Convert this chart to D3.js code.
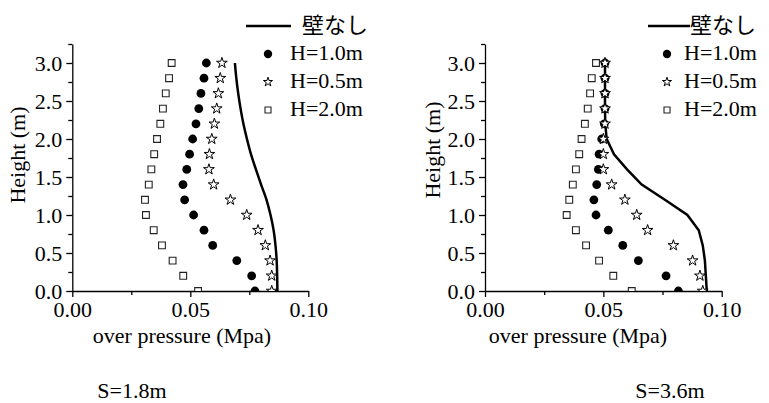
<!DOCTYPE html>
<html>
<head>
<meta charset="utf-8">
<script src="https://cdn.jsdelivr.net/npm/d3@7"></script>
<style>
  body { margin: 0; background: #fff; }
  svg text { font-family: 'Liberation Serif', 'DejaVu Serif', 'Noto Sans CJK JP', serif !important; fill: #000; }
</style>
</head>
<body>
<script>
// heights of the measuring points (m)
var heights = [0.0, 0.2, 0.4, 0.6, 0.8, 1.0, 1.2, 1.4, 1.6, 1.8, 2.0, 2.2, 2.4, 2.6, 2.8, 3.0];

// S=1.8m, over pressure (MPa) at each height
var s18NoWall = [0.0869, 0.0868, 0.0866, 0.0861, 0.0853, 0.0840, 0.0823, 0.0800, 0.0778, 0.0757, 0.0740, 0.0725, 0.0713, 0.0703, 0.0695, 0.0689];
var s18H10 = [0.0774, 0.0760, 0.0697, 0.0595, 0.0558, 0.0514, 0.0476, 0.0469, 0.0485, 0.0497, 0.0510, 0.0524, 0.0536, 0.0545, 0.0558, 0.0568];
var s18H05 = [0.0845, 0.0845, 0.0838, 0.0818, 0.0787, 0.0739, 0.0670, 0.0599, 0.0579, 0.0581, 0.0591, 0.0602, 0.0612, 0.0619, 0.0627, 0.0634];
var s18H20 = [0.0533, 0.0470, 0.0425, 0.0380, 0.0345, 0.0312, 0.0308, 0.0324, 0.0335, 0.0347, 0.0359, 0.0373, 0.0384, 0.0396, 0.0410, 0.0421];

// S=3.6m
var s36NoWall = [0.0937, 0.0933, 0.0929, 0.0920, 0.0903, 0.0855, 0.0760, 0.0662, 0.0600, 0.0545, 0.0514, 0.0508, 0.0507, 0.0507, 0.0507, 0.0507];
var s36H10 = [0.0817, 0.0765, 0.0648, 0.0582, 0.0521, 0.0469, 0.0460, 0.0472, 0.0479, 0.0482, 0.0493, 0.0504, 0.0507, 0.0507, 0.0507, 0.0507];
var s36H05 = [0.0920, 0.0908, 0.0877, 0.0796, 0.0687, 0.0641, 0.0591, 0.0535, 0.0500, 0.0500, 0.0500, 0.0507, 0.0507, 0.0507, 0.0507, 0.0507];
var s36H20 = [0.0620, 0.0542, 0.0482, 0.0427, 0.0384, 0.0345, 0.0356, 0.0371, 0.0384, 0.0398, 0.0408, 0.0422, 0.0434, 0.0444, 0.0451, 0.0469];

var seriesNames = ["壁なし", "H=1.0m", "H=0.5m", "H=2.0m"];
var xTicks = [0, 0.05, 0.10];
var xMinor = [0.025, 0.075];
var yTicks = [0, 0.5, 1.0, 1.5, 2.0, 2.5, 3.0];
var yMinor = [0.25, 0.75, 1.25, 1.75, 2.25, 2.75, 3.25];
var xTitle = "over pressure (Mpa)";
var yTitle = "Height (m)";

var FONT = "'Liberation Serif', 'DejaVu Serif', 'Noto Sans CJK JP', serif";
var FS = 22;

var svg = d3.select("body").append("svg")
  .attr("width", 769)
  .attr("height", 403)
  .attr("font-family", FONT);

var panels = [
  { id: "p1", label: "S=1.8m", wall: s18NoWall, h10: s18H10, h05: s18H05, h20: s18H20,
    x0: 72.3, x1: 308.3, curve: d3.curveMonotoneY,
    yTitleX: 25, yTitleY: 155, xTitleX: 182, labelX: 132,
    legLine: [246, 291], legTextX: 302, legMarkX: 268, legLabelX: 290 },
  { id: "p2", label: "S=3.6m", wall: s36NoWall, h10: s36H10, h05: s36H05, h20: s36H20,
    x0: 485, x1: 721.7, curve: d3.curveLinear,
    yTitleX: 440, yTitleY: 150, xTitleX: 578, labelX: 670,
    legLine: [648, 690], legTextX: 690, legMarkX: 667, legLabelX: 684 }
];

var yBottom = 291, yTop = 44;

var star = d3.symbol().type(d3.symbolStar).size(36);
var starSmall = d3.symbol().type(d3.symbolStar).size(26);
var square = d3.symbol().type(d3.symbolSquare).size(46);
var squareSmall = d3.symbol().type(d3.symbolSquare).size(36);

panels.forEach(function(p) {
  var x = d3.scaleLinear().domain([0, 0.1]).range([p.x0, p.x1]);
  var y = d3.scaleLinear().domain([0, 3.25]).range([yBottom, yTop]);

  svg.append("clipPath").attr("id", "clip-" + p.id)
    .append("rect")
    .attr("x", p.x0).attr("y", yTop - 10)
    .attr("width", p.x1 - p.x0 + 10).attr("height", yBottom - yTop + 10);

  // axes
  svg.append("g")
    .attr("transform", `translate(0, ${yBottom})`)
    .call(d3.axisBottom(x).tickValues(xTicks).tickFormat(d3.format(".2f"))
      .tickSize(6).tickSizeOuter(0).tickPadding(4));
  svg.append("g")
    .attr("transform", `translate(0, ${yBottom})`)
    .call(d3.axisBottom(x).tickValues(xMinor).tickFormat("").tickSize(4).tickSizeOuter(0))
    .select(".domain").remove();

  svg.append("g")
    .attr("transform", `translate(${p.x0}, 0)`)
    .call(d3.axisLeft(y).tickValues(yTicks).tickFormat(d3.format(".1f"))
      .tickSize(6).tickSizeOuter(0).tickPadding(4));
  svg.append("g")
    .attr("transform", `translate(${p.x0}, 0)`)
    .call(d3.axisLeft(y).tickValues(yMinor).tickFormat("").tickSize(4).tickSizeOuter(0))
    .select(".domain").remove();

  // axis titles
  svg.append("text")
    .attr("transform", `translate(${p.yTitleX}, ${p.yTitleY}) rotate(-90)`)
    .attr("text-anchor", "middle")
    .attr("font-size", FS)
    .text(yTitle);

  svg.append("text")
    .attr("x", p.xTitleX).attr("y", 343)
    .attr("text-anchor", "middle")
    .attr("font-size", FS)
    .text(xTitle);

  svg.append("text")
    .attr("x", p.labelX).attr("y", 398)
    .attr("text-anchor", "middle")
    .attr("font-size", FS)
    .text(p.label);

  // data
  var plot = svg.append("g").attr("clip-path", `url(#clip-${p.id})`);

  var line = d3.line()
    .x(function(d) { return x(d); })
    .y(function(d, i) { return y(heights[i]); })
    .curve(p.curve);

  plot.append("path")
    .datum(p.wall)
    .attr("d", line)
    .attr("fill", "none")
    .attr("stroke", "#000")
    .attr("stroke-width", 2.5);

  plot.selectAll(".c")
    .data(p.h10)
    .enter()
    .append("circle")
    .attr("cx", function(d) { return x(d); })
    .attr("cy", function(d, i) { return y(heights[i]); })
    .attr("r", 4.4)
    .attr("fill", "#000");

  plot.selectAll(".s")
    .data(p.h05)
    .enter()
    .append("path")
    .attr("d", star)
    .attr("transform", function(d, i) { return `translate(${x(d)}, ${y(heights[i])})`; })
    .attr("fill", "#fff")
    .attr("stroke", "#000")
    .attr("stroke-width", 1);

  plot.selectAll(".q")
    .data(p.h20)
    .enter()
    .append("path")
    .attr("d", square)
    .attr("transform", function(d, i) { return `translate(${x(d)}, ${y(heights[i])})`; })
    .attr("fill", "#fff")
    .attr("stroke", "#222")
    .attr("stroke-width", 1.1);

  // legend
  svg.append("line")
    .attr("x1", p.legLine[0]).attr("x2", p.legLine[1])
    .attr("y1", 26).attr("y2", 26)
    .attr("stroke", "#000").attr("stroke-width", 2.5);
  svg.append("text")
    .attr("x", p.legTextX).attr("y", 33)
    .attr("font-size", FS)
    .text(seriesNames[0]);

  svg.append("circle")
    .attr("cx", p.legMarkX).attr("cy", 54)
    .attr("r", 4.2).attr("fill", "#000");
  svg.append("path")
    .attr("d", starSmall)
    .attr("transform", `translate(${p.legMarkX}, 82)`)
    .attr("fill", "#fff").attr("stroke", "#000").attr("stroke-width", 1);
  svg.append("path")
    .attr("d", squareSmall)
    .attr("transform", `translate(${p.legMarkX}, 110)`)
    .attr("fill", "#fff").attr("stroke", "#222").attr("stroke-width", 1.1);

  [1, 2, 3].forEach(function(k) {
    svg.append("text")
      .attr("x", p.legLabelX).attr("y", 32 + 28 * k)
      .attr("font-size", FS)
      .text(seriesNames[k]);
  });
});

svg.selectAll(".tick text").attr("font-size", FS).attr("font-family", FONT);
svg.selectAll("g").attr("font-family", FONT);
svg.selectAll(".domain, .tick line").attr("stroke", "#000").attr("stroke-width", 1.3);
</script>
</body>
</html>
